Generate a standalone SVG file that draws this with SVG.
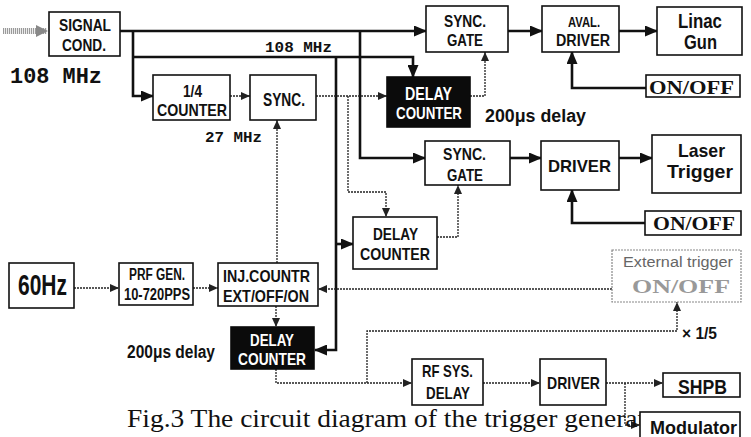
<svg xmlns="http://www.w3.org/2000/svg" width="751" height="437" viewBox="0 0 751 437">
<style>
.box{fill:#fff;stroke:#111;stroke-width:1.6}
.blk{fill:#0b0b0b;stroke:#0b0b0b;stroke-width:1.6}
.ext{fill:#fff;stroke:#888;stroke-width:1.2;stroke-dasharray:2 1}
.t{font-family:"Liberation Sans",Arial,sans-serif;font-weight:bold;fill:#111}
.w{fill:#fff}
.s{font-family:"Liberation Serif","Times New Roman",serif;font-weight:bold;fill:#111}
.m{font-family:"Liberation Mono","Courier New",monospace;font-weight:bold;fill:#111}
.solid{fill:none;stroke:#111;stroke-width:2.6}
.dot{fill:none;stroke:#222;stroke-width:1.3;stroke-dasharray:2 1}
</style>
<defs>
<marker id="ah" markerUnits="userSpaceOnUse" markerWidth="13" markerHeight="11" refX="12" refY="5.5" orient="auto"><path d="M0,0 L13,5.5 L0,11 z" fill="#111"/></marker>
<marker id="as" markerUnits="userSpaceOnUse" markerWidth="9" markerHeight="8" refX="9" refY="4" orient="auto"><path d="M0,0 L9,4 L0,8 z" fill="#222"/></marker>
<marker id="ag" markerUnits="userSpaceOnUse" markerWidth="12" markerHeight="12" refX="11" refY="6" orient="auto"><path d="M0,0 L12,6 L0,12 z" fill="#888"/></marker>
</defs>

<g id="connectors">
<path d="M3,31 H47" fill="none" stroke="#9a9a9a" stroke-width="6" stroke-dasharray="1.2 0.8" marker-end="url(#ag)"/>
<path class="solid" d="M120,31 H426" marker-end="url(#ah)"/>
<path class="solid" d="M133,31 V96 H153" marker-end="url(#ah)"/>
<path class="solid" d="M133,57 H413 V77" marker-end="url(#ah)"/>
<path class="solid" d="M336,57 V350 H315" marker-end="url(#ah)"/>
<path class="solid" d="M336,244 H353" marker-end="url(#ah)"/>
<path class="solid" d="M360,31 V158 H425" marker-end="url(#ah)"/>
<path class="solid" d="M508,31 H542" marker-end="url(#ah)"/>
<path class="solid" d="M619,31 H657" marker-end="url(#ah)"/>
<path class="solid" d="M646,88 H572 V52" marker-end="url(#ah)"/>
<path class="solid" d="M510,158 H541" marker-end="url(#ah)"/>
<path class="solid" d="M619,158 H652" marker-end="url(#ah)"/>
<path class="solid" d="M645,223 H572 V190" marker-end="url(#ah)"/>

<path class="dot" d="M230,96 H250" marker-end="url(#as)"/>
<path class="dot" d="M316,96 H387" marker-end="url(#as)"/>
<path class="dot" d="M470,96 H485 V52" marker-end="url(#as)"/>
<path class="dot" d="M348,96 V192 H386 V217" marker-end="url(#as)"/>
<path class="dot" d="M437,237 H458 V185" marker-end="url(#as)"/>
<path class="dot" d="M74,288 H119" marker-end="url(#as)"/>
<path class="dot" d="M193,288 H218" marker-end="url(#as)"/>
<path class="dot" d="M277,263 V120" marker-end="url(#as)"/>
<path class="dot" d="M276,306 V327" marker-end="url(#as)"/>
<path class="dot" d="M612,289 H318" marker-end="url(#as)"/>
<path class="dot" d="M276,369 V383 H412" marker-end="url(#as)"/>
<path class="dot" d="M367,383 V331 H677 V302" marker-end="url(#as)"/>
<path class="dot" d="M483,383 H540" marker-end="url(#as)"/>
<path class="dot" d="M606,383 H663" marker-end="url(#as)"/>
<path class="dot" d="M625,383 V425 H640" marker-end="url(#as)"/>
</g>

<g id="labels">
<text class="m" x="10" y="83" font-size="22" textLength="92" lengthAdjust="spacingAndGlyphs">108 MHz</text>
<text class="m" x="265" y="52" font-size="15" textLength="67" lengthAdjust="spacingAndGlyphs">108 MHz</text>
<text class="m" x="205" y="142" font-size="15" textLength="57" lengthAdjust="spacingAndGlyphs">27 MHz</text>
<text class="t" x="485" y="122" font-size="18" textLength="101" lengthAdjust="spacingAndGlyphs">200μs delay</text>
<text class="t" x="127" y="358" font-size="18" textLength="88" lengthAdjust="spacingAndGlyphs">200μs delay</text>
<text class="t" x="682" y="339" font-size="17" textLength="35" lengthAdjust="spacingAndGlyphs">× 1/5</text>
<text x="127" y="427" font-family="'Liberation Serif','Times New Roman',serif" font-size="26" fill="#111" textLength="541" lengthAdjust="spacingAndGlyphs">Fig.3 The circuit diagram of the trigger generator</text>
</g>

<g id="signal-cond"><rect class="box" x="49" y="12" width="71" height="44"/>
<text class="t" x="59" y="31" font-size="17" textLength="52" lengthAdjust="spacingAndGlyphs">SIGNAL</text>
<text class="t" x="62" y="51" font-size="17" textLength="44" lengthAdjust="spacingAndGlyphs">COND.</text></g>

<g id="counter-1-4"><rect class="box" x="153" y="75" width="77" height="45"/>
<text class="t" x="183" y="97" font-size="17" textLength="19" lengthAdjust="spacingAndGlyphs">1/4</text>
<text class="t" x="157" y="116" font-size="17" textLength="70" lengthAdjust="spacingAndGlyphs">COUNTER</text></g>

<g id="sync"><rect class="box" x="250" y="75" width="66" height="45"/>
<text class="t" x="263" y="106" font-size="18" textLength="42" lengthAdjust="spacingAndGlyphs">SYNC.</text></g>

<g id="delay-counter-1"><rect class="blk" x="387" y="77" width="83" height="50"/>
<text class="t w" x="405" y="100" font-size="18" textLength="47" lengthAdjust="spacingAndGlyphs">DELAY</text>
<text class="t w" x="396" y="119" font-size="17" textLength="66" lengthAdjust="spacingAndGlyphs">COUNTER</text></g>

<g id="sync-gate-1"><rect class="box" x="426" y="6" width="82" height="46"/>
<text class="t" x="444" y="27" font-size="17" textLength="42" lengthAdjust="spacingAndGlyphs">SYNC.</text>
<text class="t" x="447" y="46" font-size="17" textLength="36" lengthAdjust="spacingAndGlyphs">GATE</text></g>

<g id="aval-driver"><rect class="box" x="542" y="6" width="77" height="46"/>
<text class="t" x="568" y="27" font-size="15" textLength="32" lengthAdjust="spacingAndGlyphs">AVAL.</text>
<text class="t" x="556" y="46" font-size="16" textLength="54" lengthAdjust="spacingAndGlyphs">DRIVER</text></g>

<g id="linac-gun"><rect class="box" x="657" y="7" width="85" height="48" stroke-width="2"/>
<text class="t" x="678" y="28" font-size="20" textLength="44" lengthAdjust="spacingAndGlyphs">Linac</text>
<text class="t" x="684" y="49" font-size="20" textLength="33" lengthAdjust="spacingAndGlyphs">Gun</text></g>

<g id="on-off-1"><rect class="box" x="646" y="75" width="94" height="22" stroke-width="2"/>
<text class="s" x="649" y="94" font-size="18" textLength="85" lengthAdjust="spacingAndGlyphs">ON/OFF</text></g>

<g id="sync-gate-2"><rect class="box" x="425" y="141" width="85" height="44"/>
<text class="t" x="443" y="160" font-size="17" textLength="43" lengthAdjust="spacingAndGlyphs">SYNC.</text>
<text class="t" x="447" y="181" font-size="17" textLength="36" lengthAdjust="spacingAndGlyphs">GATE</text></g>

<g id="driver-2"><rect class="box" x="541" y="141" width="78" height="49"/>
<text class="t" x="548" y="172" font-size="17" textLength="63" lengthAdjust="spacingAndGlyphs">DRIVER</text></g>

<g id="laser-trigger"><rect class="box" x="652" y="135" width="89" height="58" stroke-width="2"/>
<text class="t" x="678" y="157" font-size="19" textLength="47" lengthAdjust="spacingAndGlyphs">Laser</text>
<text class="t" x="667" y="178" font-size="19" textLength="66" lengthAdjust="spacingAndGlyphs">Trigger</text></g>

<g id="on-off-2"><rect class="box" x="645" y="211" width="96" height="24" stroke-width="2"/>
<text class="s" x="653" y="230" font-size="18" textLength="82" lengthAdjust="spacingAndGlyphs">ON/OFF</text></g>

<g id="delay-counter-2"><rect class="box" x="353" y="217" width="84" height="52"/>
<text class="t" x="373" y="240" font-size="17" textLength="45" lengthAdjust="spacingAndGlyphs">DELAY</text>
<text class="t" x="360" y="260" font-size="17" textLength="70" lengthAdjust="spacingAndGlyphs">COUNTER</text></g>

<g id="hz60"><rect class="box" x="9" y="263" width="65" height="45" stroke-width="2"/>
<text class="t" x="18" y="295" font-size="29" textLength="49" lengthAdjust="spacingAndGlyphs">60Hz</text></g>

<g id="prf-gen"><rect class="box" x="119" y="263" width="74" height="42"/>
<text class="t" x="129" y="280" font-size="16" textLength="56" lengthAdjust="spacingAndGlyphs">PRF GEN.</text>
<text class="t" x="124" y="300" font-size="16" textLength="66" lengthAdjust="spacingAndGlyphs">10-720PPS</text></g>

<g id="inj-countr"><rect class="box" x="218" y="263" width="100" height="43"/>
<text class="t" x="223" y="282" font-size="17" textLength="87" lengthAdjust="spacingAndGlyphs">INJ.COUNTR</text>
<text class="t" x="223" y="302" font-size="17" textLength="86" lengthAdjust="spacingAndGlyphs">EXT/OFF/ON</text></g>

<g id="delay-counter-3"><rect class="blk" x="231" y="327" width="83" height="42"/>
<text class="t w" x="250" y="346" font-size="17" textLength="44" lengthAdjust="spacingAndGlyphs">DELAY</text>
<text class="t w" x="238" y="365" font-size="17" textLength="68" lengthAdjust="spacingAndGlyphs">COUNTER</text></g>

<g id="external-trigger"><rect class="ext" x="612" y="250" width="129" height="52"/>
<text x="623" y="267" font-family="'Liberation Sans',Arial,sans-serif" font-size="14" fill="#666" textLength="110" lengthAdjust="spacingAndGlyphs">External trigger</text>
<text class="s" x="632" y="293" font-size="19" style="fill:#999" textLength="98" lengthAdjust="spacingAndGlyphs">ON/OFF</text></g>

<g id="rf-sys-delay"><rect class="box" x="412" y="359" width="71" height="46"/>
<text class="t" x="422" y="377" font-size="17" textLength="51" lengthAdjust="spacingAndGlyphs">RF SYS.</text>
<text class="t" x="426" y="399" font-size="17" textLength="44" lengthAdjust="spacingAndGlyphs">DELAY</text></g>

<g id="driver-3"><rect class="box" x="540" y="359" width="66" height="46"/>
<text class="t" x="547" y="389" font-size="17" textLength="53" lengthAdjust="spacingAndGlyphs">DRIVER</text></g>

<g id="shpb"><rect class="box" x="663" y="373" width="77" height="24" stroke-width="2"/>
<text class="t" x="678" y="394" font-size="21" textLength="49" lengthAdjust="spacingAndGlyphs">SHPB</text></g>

<g id="modulator"><rect class="box" x="640" y="412" width="100" height="30" stroke-width="2"/>
<text class="t" x="650" y="434" font-size="19" textLength="87" lengthAdjust="spacingAndGlyphs">Modulator</text></g>
</svg>
